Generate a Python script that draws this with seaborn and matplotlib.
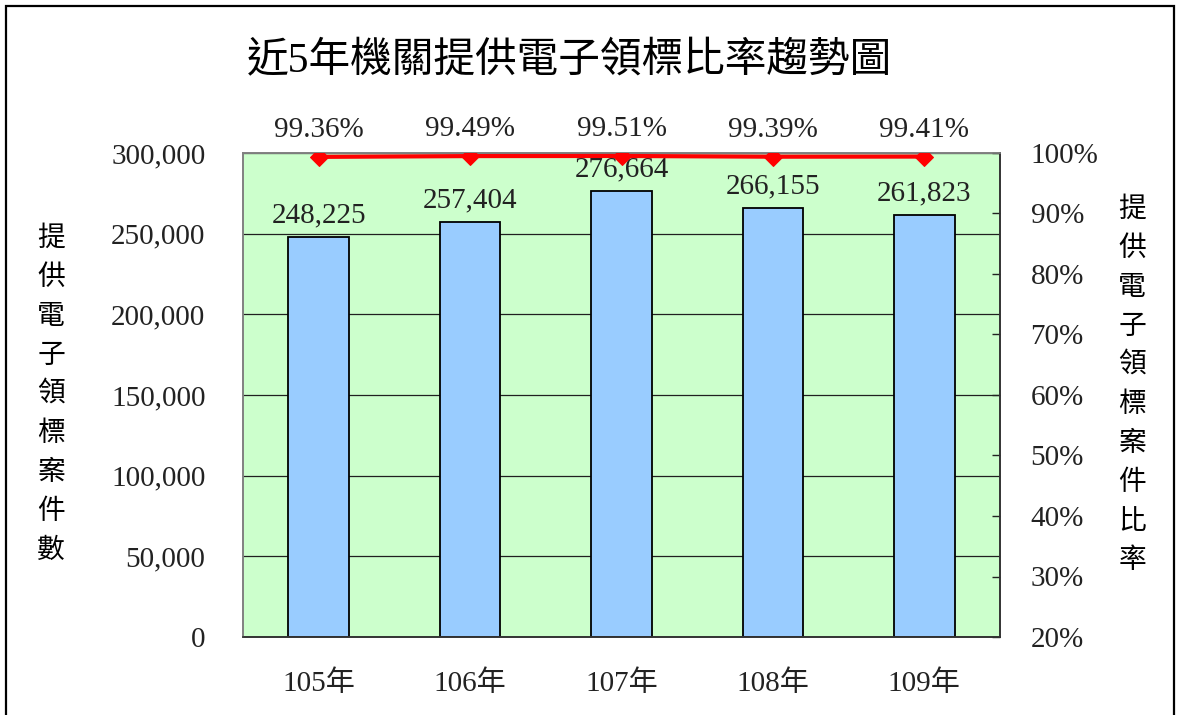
import matplotlib
matplotlib.use("Agg")
import matplotlib.pyplot as plt
from matplotlib.patches import Rectangle
from matplotlib.ticker import FuncFormatter, FixedLocator
import pandas as pd
import seaborn as sns

years = ["105年", "106年", "107年", "108年", "109年"]
cases = [248225, 257404, 276664, 266155, 261823]
rates = [99.36, 99.49, 99.51, 99.39, 99.41]

title = "近5年機關提供電子領標比率趨勢圖"
left_label = "提供電子領標案件數"
right_label = "提供電子領標案件比率"

sns.set_theme(style="white")
fonts = ["Liberation Serif", "Noto Sans CJK TC", "DejaVu Sans"]
cjk = ["Noto Sans CJK TC", "DejaVu Sans"]
plt.rcParams["font.family"] = fonts

df = pd.DataFrame({"year": years, "cases": cases, "rate": rates})

fig = plt.figure(figsize=(11.79, 7.15), dpi=100)
ax = fig.add_axes([243 / 1179, 1 - 637 / 715, (1000 - 243) / 1179, (637 - 153) / 715])
ax.set_facecolor("#CCFFCC")

sns.barplot(data=df, x="year", y="cases", ax=ax, color="#99CCFF", saturation=1,
            width=0.4, edgecolor="black", linewidth=1.3, zorder=2)
ax.set_ylim(0, 300000)
ax.set_xlim(-0.5, len(years) - 0.5)
ax.set_yticks(range(0, 300001, 50000))
ax.yaxis.set_major_formatter(FuncFormatter(lambda v, p: f"{v:,.0f}"))
ax.yaxis.grid(True, color="#202020", linewidth=0.9)
ax.set_axisbelow(True)
ax.set_xlabel("")
ax.set_ylabel("")
ax.tick_params(axis="y", length=0, pad=27, labelsize=21, colors="#222222")
ax.tick_params(axis="x", which="major", length=0, pad=24, labelsize=21, colors="#222222")
ax.xaxis.set_minor_locator(FixedLocator([i + 0.5 for i in range(len(years) - 1)]))
ax.tick_params(axis="x", which="minor", direction="in", length=5.5, width=1, color="#222222")
ax.bar_label(ax.containers[0], labels=[f"{v:,}" for v in cases], padding=6,
             fontsize=21, color="#222222")

ax2 = ax.twinx()
sns.lineplot(data=df, x="year", y="rate", ax=ax2, color="#FF0000", linewidth=3,
             marker="D", markersize=9, markeredgecolor="#FF0000", sort=False, zorder=5)
ax2.set_ylim(20, 100)
ax2.set_yticks(range(20, 101, 10))
ax2.yaxis.set_major_formatter(FuncFormatter(lambda v, p: f"{v:.0f}%"))
ax2.set_ylabel("")
ax2.tick_params(axis="y", direction="in", length=5.5, width=1, pad=22, labelsize=21,
                colors="#222222")
for i, r in enumerate(rates):
    ax2.annotate(f"{r:.2f}%", (i, r), xytext=(0, 10), textcoords="offset points",
                 ha="center", va="bottom", fontsize=21, color="#222222", clip_on=False)

for a in (ax, ax2):
    a.spines["top"].set_color("#808080")
    a.spines["left"].set_color("#808080")
    a.spines["bottom"].set_color("#333333")
    a.spines["right"].set_color("#333333")
    for s in a.spines.values():
        s.set_linewidth(1.2)

fig.text(570 / 1179, 1 - 62 / 715, title, ha="center", va="center", fontsize=30,
         family=fonts, color="black")

for k, ch in enumerate(left_label):
    fig.text(51 / 1179, 1 - (238 + 39 * k) / 715, ch, ha="center", va="center",
             fontsize=20, family=cjk, color="black")
for k, ch in enumerate(right_label):
    fig.text(1132 / 1179, 1 - (209 + 39 * k) / 715, ch, ha="center", va="center",
             fontsize=20, family=cjk, color="black")

fig.add_artist(Rectangle((6 / 1179, -0.05), (1174 - 6) / 1179, 1.05 - 6 / 715,
                         transform=fig.transFigure, fill=False, edgecolor="black",
                         linewidth=1.6, clip_on=False))

fig.savefig("out.png", dpi=100)
